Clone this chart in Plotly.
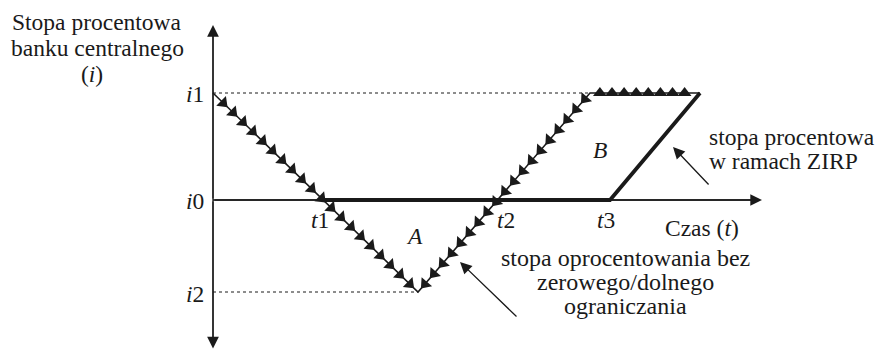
import numpy as np
import plotly.graph_objects as go

# ---- data (time units / rate units) ----
rate_labels = ["i1", "i0", "i2"]
rate_levels = [1.07, 0.0, -0.92]          # i1, i0, i2
time_labels = ["t1", "t2", "t3"]
time_points = [1.09, 2.85, 3.97]          # t1, t2, t3

# unconstrained policy rate path (no zero lower bound)
free_t = [0.0, 2.05, 3.77, 4.87]
free_i = [1.07, -0.92, 1.07, 1.07]

# ZIRP policy rate path
zirp_t = [1.09, 3.97, 4.87]
zirp_i = [0.0, 0.0, 1.07]

# axis extents
t_axis_end = 5.49
i_axis_top = 1.75
i_axis_bottom = -1.485

# ---- layout helpers (pixel -> axis units; 100 px per unit, origin at (213,200)) ----
OX, OY, S = 213.0, 200.0, 100.0
def X(px):
    return (px - OX) / S
def Y(py):
    return (OY - py) / S

INK = "#1a1a1a"
FONT = "Liberation Serif"
FS = 23.5

fig = go.Figure()

# dashed reference lines for i1 and i2
fig.add_trace(go.Scatter(x=[0, free_t[2]], y=[free_i[2], free_i[2]], mode="lines",
                         line=dict(color=INK, width=1, dash="3px,3px"), hoverinfo="skip"))
fig.add_trace(go.Scatter(x=[0, free_t[1]], y=[free_i[1], free_i[1]], mode="lines",
                         line=dict(color=INK, width=1, dash="3px,3px"), hoverinfo="skip"))

# axes lines
fig.add_trace(go.Scatter(x=[0, 0], y=[i_axis_bottom + 0.08, i_axis_top - 0.08], mode="lines",
                         line=dict(color=INK, width=1.3), hoverinfo="skip"))
fig.add_trace(go.Scatter(x=[0, t_axis_end - 0.08], y=[0, 0], mode="lines",
                         line=dict(color=INK, width=1.3), hoverinfo="skip"))

# ZIRP path (thick)
fig.add_trace(go.Scatter(x=zirp_t, y=zirp_i, mode="lines",
                         line=dict(color=INK, width=3.8), hoverinfo="skip"))

# unconstrained path
fig.add_trace(go.Scatter(x=free_t, y=free_i, mode="lines",
                         line=dict(color=INK, width=1.6), hoverinfo="skip"))

# triangle decorations along the unconstrained path (line style)
def deco(p0, p1, n, f0, f1, angle):
    f = np.linspace(f0, f1, n)
    xs = p0[0] + (p1[0] - p0[0]) * f
    ys = p0[1] + (p1[1] - p0[1]) * f
    fig.add_trace(go.Scatter(x=xs, y=ys, mode="markers",
                             marker=dict(symbol="triangle-up", size=12, angle=angle,
                                         color=INK, line=dict(width=0)),
                             hoverinfo="skip"))

P = list(zip(free_t, free_i))
dx, dy = P[1][0] - P[0][0], P[1][1] - P[0][1]
a1 = 90 + np.degrees(np.arctan2(-dy, dx))          # pointing down-right
dx2, dy2 = P[2][0] - P[1][0], P[2][1] - P[1][1]
a2 = 180 + np.degrees(np.arctan2(dx2, dy2))        # pointing down-left
deco(P[0], P[1], 20, 0.05, 0.96, a1)
deco(P[1], P[2], 19, 0.04, 0.97, a2)
deco(P[2], P[3], 8, 0.09, 0.86, 0)

ann = []
def txt(text, px, py, xanchor="center", size=FS):
    ann.append(dict(text=text, x=X(px), y=Y(py), xref="x", yref="y", showarrow=False,
                    xanchor=xanchor, yanchor="middle",
                    font=dict(family=FONT, size=size, color=INK)))

def arrow(tip, tail):
    ann.append(dict(text="", x=tip[0], y=tip[1], ax=tail[0], ay=tail[1],
                    xref="x", yref="y", axref="x", ayref="y", showarrow=True,
                    arrowhead=2, arrowsize=1.8, arrowwidth=1.3, arrowcolor=INK,
                    standoff=0, startstandoff=0))

# axis arrowheads
arrow((0, i_axis_top), (0, 0))
arrow((0, i_axis_bottom), (0, 0))
arrow((t_axis_end, 0), (0, 0))

# callout arrows
arrow((X(673), Y(147)), (X(710), Y(186)))
arrow((X(460), Y(262)), (X(518), Y(318)))

# y-axis title
txt("Stopa procentowa", 97, 22)
txt("banku centralnego", 97, 48)
txt("(<i>i</i>)", 92, 74)

# rate labels
for lab, lev, cy in zip(rate_labels, rate_levels, [94, 201, 294]):
    ann.append(dict(text="<i>i</i>" + lab[1:], x=X(206), y=lev + (Y(cy) - lev),
                    xref="x", yref="y", showarrow=False, xanchor="right", yanchor="middle",
                    font=dict(family=FONT, size=FS, color=INK)))

# time labels
for lab, tp, cx in zip(time_labels, time_points, [320, 506, 606]):
    ann.append(dict(text="<i>t</i>" + lab[1:], x=tp + (X(cx) - tp), y=Y(220),
                    xref="x", yref="y", showarrow=False, xanchor="center", yanchor="middle",
                    font=dict(family=FONT, size=FS, color=INK)))

txt("<i>A</i>", 414, 236)
txt("<i>B</i>", 600, 150)
txt("Czas (<i>t</i>)", 702, 228)

txt("stopa procentowa", 707, 137, xanchor="left")
txt("w ramach ZIRP", 707, 161, xanchor="left")

txt("stopa oprocentowania bez", 625, 258, size=24)
txt("zerowego/dolnego", 625, 282, size=24)
txt("ograniczania", 625, 306, size=24)

fig.update_layout(
    width=876, height=349,
    margin=dict(l=0, r=0, t=0, b=0),
    paper_bgcolor="white", plot_bgcolor="white",
    showlegend=False,
    font=dict(family=FONT, color=INK),
    xaxis=dict(range=[X(0), X(876)], visible=False, fixedrange=True),
    yaxis=dict(range=[Y(349), Y(0)], visible=False, fixedrange=True),
    annotations=ann,
)

fig.write_html("out.html", config={"displayModeBar": False},
               post_script="document.body.style.margin='0px';document.body.style.overflow='hidden';")
